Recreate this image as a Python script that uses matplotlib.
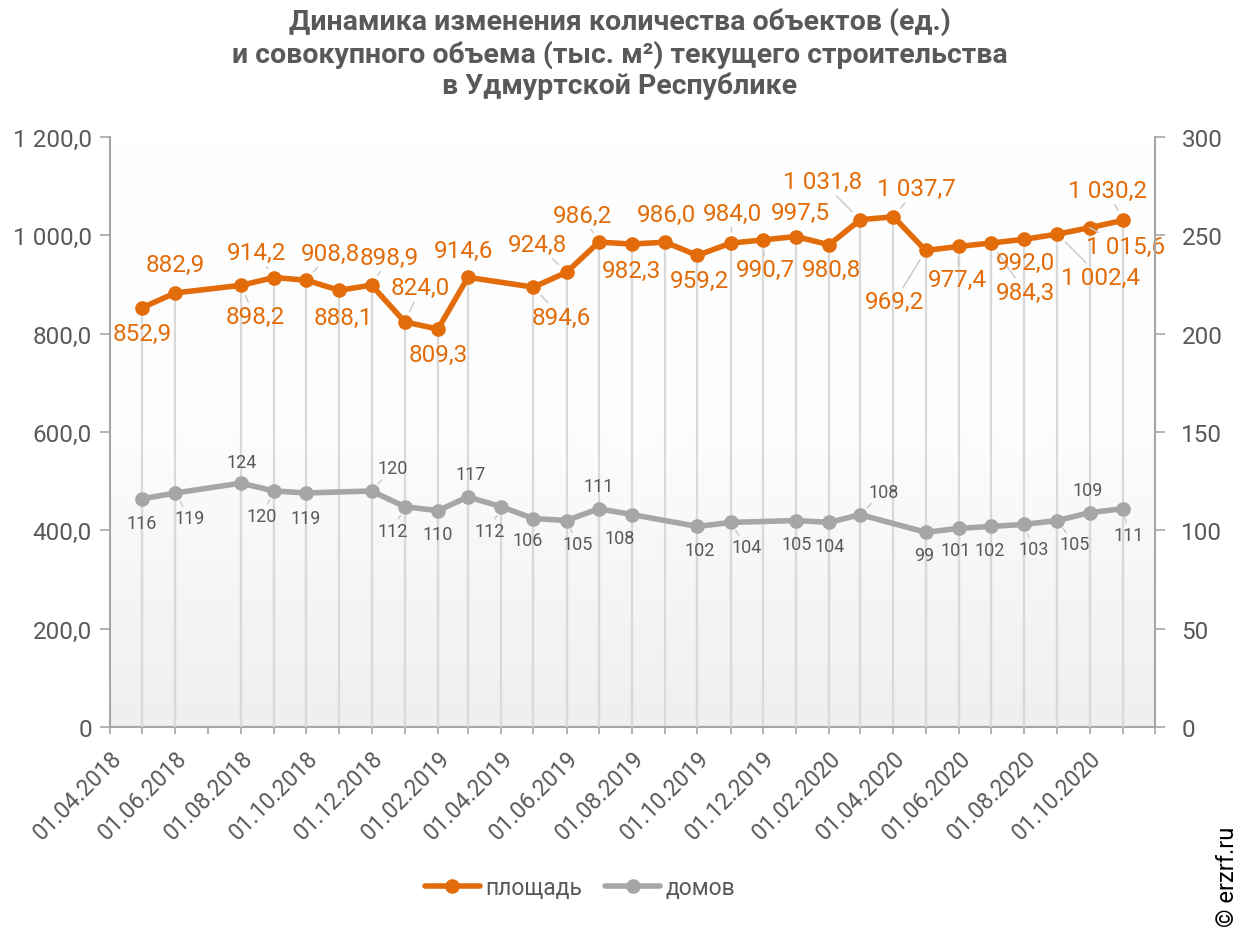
import numpy as np
import matplotlib
matplotlib.use("Agg")
import matplotlib.pyplot as plt
import matplotlib.dates as mdates
from matplotlib.ticker import FuncFormatter, MultipleLocator
from matplotlib.colors import LinearSegmentedColormap

plt.rcParams['font.family'] = ['Roboto', 'DejaVu Sans']

# ---------------- data ----------------
dates = ["2018-05-01", "2018-06-01", "2018-08-01", "2018-09-01", "2018-10-01",
         "2018-11-01", "2018-12-01", "2019-01-01", "2019-02-01", "2019-03-01",
         "2019-04-01", "2019-05-01", "2019-06-01", "2019-07-01", "2019-08-01",
         "2019-09-01", "2019-10-01", "2019-11-01", "2019-12-01", "2020-01-01",
         "2020-02-01", "2020-03-01", "2020-04-01", "2020-05-01", "2020-06-01",
         "2020-07-01", "2020-08-01", "2020-09-01", "2020-10-01", "2020-11-01"]
area = [852.9, 882.9, 898.2, 914.2, 908.8, 888.1, 898.9, 824.0, 809.3, 914.6,
        np.nan, 894.6, 924.8, 986.2, 982.3, 986.0, 959.2, 984.0, 990.7, 997.5,
        980.8, 1031.8, 1037.7, 969.2, 977.4, 984.3, 992.0, 1002.4, 1015.6, 1030.2]
houses = [116, 119, 124, 120, 119, np.nan, 120, 112, 110, 117,
          112, 106, 105, 111, 108, np.nan, 102, 104, np.nan, 105,
          104, 108, np.nan, 99, 101, 102, 103, 105, 109, 111]
series_names = ["площадь", "домов"]
title = ("Динамика изменения количества объектов (ед.)\n"
         "и совокупного объема (тыс. м²) текущего строительства\n"
         "в Удмуртской Республике")

# label offsets (pixels, x right / y down)
area_off = [(0, 26), (0, -28), (14, 31), (-17, -25), (24, -27), (4, 27), (18, -28),
            (16, -34), (0, 25), (-4, -27), (0, 0), (28, 30), (-29, -28), (-16, -27),
            (0, 26), (1, -28), (2, 25), (2, -30), (3, 30), (4, -24), (2, 25),
            (-38, -38), (23, -28), (-31, 51), (-1, 33), (34, 49), (1, 23), (43, 43),
            (36, 19), (-15, -30)]
houses_off = [(0, 24), (14, 25), (1, -21), (-12, 25), (0, 25), (0, 0), (21, -23),
              (-12, 24), (0, 23), (3, -23), (-12, 24), (-6, 21), (11, 24), (0, -23),
              (-12, 23), (0, 0), (2, 24), (16, 25), (0, 0), (1, 24), (1, 24),
              (23, -23), (0, 0), (-1, 23), (-3, 22), (-1, 24), (9, 25), (17, 24),
              (-2, -23), (6, 26)]

ORANGE = "#E36C0A"
GRAY = "#A6A6A6"
TXT = "#595959"
DROP = "#D9D9D9"

W, H = 1243, 928
fig = plt.figure(figsize=(W / 100, H / 100), dpi=100)
L, R, T, B = 110, 1155, 138, 728
ax = fig.add_axes([L / W, 1 - B / H, (R - L) / W, (B - T) / H])
ax2 = ax.twinx()

x = np.array(dates, dtype="datetime64[D]")
xn = mdates.date2num(x)
a = np.array(area, dtype=float)
h = np.array(houses, dtype=float)

xmin = mdates.date2num(np.datetime64("2018-04-01"))
xmax = mdates.date2num(np.datetime64("2020-12-01"))

# gradient background (white at top -> light gray at bottom)
grad = np.linspace(0, 1, 256).reshape(-1, 1)
cmap = LinearSegmentedColormap.from_list("bg", ["#FFFFFF", "#FDFDFD", "#EFEFEF"])
ax.imshow(grad, extent=[xmin, xmax, 0, 1200], aspect="auto", cmap=cmap,
          zorder=0, origin="upper")
ax.set_xlim(xmin, xmax)
ax.set_ylim(0, 1200)
ax2.set_ylim(0, 300)
ax2.patch.set_visible(False)

# drop lines
ma = ~np.isnan(a)
mh = ~np.isnan(h)
ax.vlines(xn[ma], 0, a[ma], color=DROP, lw=1.6, zorder=1)
ax2.vlines(xn[mh], 0, h[mh], color=DROP, lw=1.6, zorder=1)

# lines
l1, = ax.plot(xn[ma], a[ma], color=ORANGE, lw=4.0, marker="o", ms=9.5,
              zorder=3, label=series_names[0], solid_capstyle="round")
l2, = ax2.plot(xn[mh], h[mh], color=GRAY, lw=4.0, marker="o", ms=9.5,
               zorder=3, label=series_names[1], solid_capstyle="round")


def fmt_num(v, dec=1):
    return f"{v:,.{dec}f}".replace(",", " ").replace(".", ",")


for xi, v, off in zip(xn, a, area_off):
    if np.isnan(v):
        continue
    d = np.hypot(*off)
    ap = dict(arrowstyle="-", color="#C8C8C8", lw=1.0, shrinkA=0, shrinkB=8) if d > 30 else None
    ax.annotate(fmt_num(v), (xi, v), xytext=(off[0], -off[1]), textcoords="offset pixels",
                ha="center", va="center", fontsize=17.5, color=ORANGE, zorder=5,
                arrowprops=ap)

for xi, v, off in zip(xn, h, houses_off):
    if np.isnan(v):
        continue
    d = np.hypot(*off)
    ap = dict(arrowstyle="-", color="#C8C8C8", lw=1.0, shrinkA=0, shrinkB=7) if d > 26 else None
    ax2.annotate(f"{int(v)}", (xi, v), xytext=(off[0], -off[1]), textcoords="offset pixels",
                 ha="center", va="center", fontsize=13, color=TXT, zorder=5,
                 arrowprops=ap)

# axes styling
ax.spines["top"].set_visible(False)
ax2.spines["top"].set_visible(False)
ax.spines["right"].set_visible(False)
ax2.spines["left"].set_visible(False)
ax2.spines["bottom"].set_visible(False)
for sp in [ax.spines["left"], ax.spines["bottom"], ax2.spines["right"]]:
    sp.set_color(GRAY)
    sp.set_linewidth(1.5)

ax.yaxis.set_major_locator(MultipleLocator(200))
ax2.yaxis.set_major_locator(MultipleLocator(50))
ax.yaxis.set_major_formatter(FuncFormatter(lambda v, p: "0" if v == 0 else fmt_num(v)))
ax2.yaxis.set_major_formatter(FuncFormatter(lambda v, p: f"{int(v)}"))
ax.tick_params(axis="y", colors=GRAY, labelcolor=TXT, labelsize=17.5, length=7, width=1.2, pad=6)
ax2.tick_params(axis="y", colors=GRAY, labelcolor=TXT, labelsize=17.5, length=7, width=1.2, pad=12)


def xfmt(v, p):
    if v > xmax - 20:
        return ""
    return mdates.num2date(v).strftime("%d.%m.%Y")


ax.xaxis.set_major_locator(mdates.MonthLocator(bymonth=[2, 4, 6, 8, 10, 12], bymonthday=1))
ax.xaxis.set_minor_locator(mdates.MonthLocator(bymonthday=1))
ax.xaxis.set_major_formatter(FuncFormatter(xfmt))
ax.tick_params(axis="x", which="both", colors=GRAY, labelcolor=TXT, length=5, width=1.2)
ax.tick_params(axis="x", which="major", labelsize=16.5, pad=9)
for lbl in ax.get_xticklabels():
    lbl.set_rotation(45)
    lbl.set_ha("right")
    lbl.set_va("top")
    lbl.set_rotation_mode("anchor")

fig.text(620 / W, 1 - 54 / H, title, ha="center", va="center", fontsize=20.5,
         fontweight="bold", color=TXT, linespacing=1.2)

fig.legend(handles=[l1, l2], loc="center", bbox_to_anchor=(580 / W, 1 - 889 / H),
           ncol=2, frameon=False, fontsize=16.5, labelcolor=TXT, handlelength=2.4,
           columnspacing=1.0, handletextpad=0.25)

fig.text(1228 / W, 1 - 877 / H, "© erzrf.ru", rotation=90, ha="center", va="center",
         fontsize=17, color="#000000")

fig.savefig("out.png", dpi=100)
